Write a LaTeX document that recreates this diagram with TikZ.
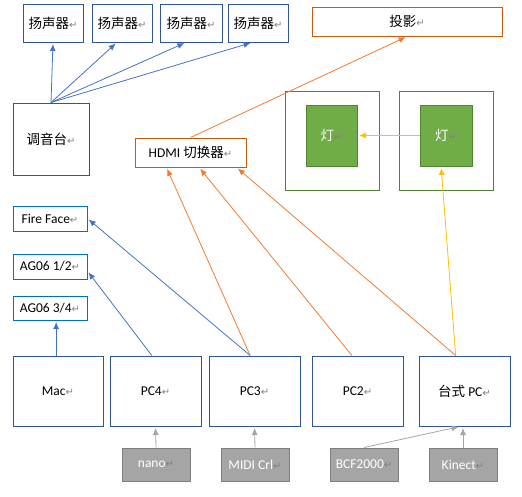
\documentclass[tikz,border=0pt]{standalone}
\usepackage{fontspec}
\setmainfont{Carlito}
\newfontfamily\cjk{Noto Sans CJK SC}
\newfontfamily\sym{DejaVu Sans}
\usetikzlibrary{arrows.meta}
\definecolor{dkblue}{HTML}{2F5597}
\definecolor{ltblue}{HTML}{0070C0}
\definecolor{arblue}{HTML}{4472C4}
\definecolor{dkorange}{HTML}{C55A11}
\definecolor{arorange}{HTML}{ED7D31}
\definecolor{dkgreen}{HTML}{548235}
\definecolor{ltgreen}{HTML}{70AD47}
\definecolor{aryellow}{HTML}{FFC000}
\definecolor{dkgray}{HTML}{7F7F7F}
\definecolor{ltgray}{HTML}{A5A5A5}
\newcommand{\retm}{{\sym\fontsize{10}{10}\selectfont\textcolor{gray}{↵}}}
\tikzset{bx/.style = {rectangle, draw=dkblue, line width=1pt, inner sep=0pt, text=black},
           spk/.style = {bx, minimum width=60, minimum height=38},
           pc/.style = {bx, minimum width=91, minimum height=70},
           sm/.style = {bx, draw=ltblue, minimum width=74, minimum height=25},
           ob/.style = {bx, draw=dkorange},
           frame/.style = {bx, draw=dkgreen, minimum width=94, minimum height=99},
           lamp/.style = {bx, draw=dkgreen, fill=ltgreen, text=white, minimum width=51, minimum height=61},
           gr/.style = {bx, draw=dkgray, fill=ltgray, text=white, minimum width=68, minimum height=33},
           ba/.style = {->, draw=arblue, line width=0.8pt, shorten >=1.5pt},
           oa/.style = {->, draw=arorange, line width=0.8pt, shorten >=1.5pt},
           ya/.style = {->, draw=aryellow, line width=0.8pt, shorten >=1.5pt},
           ga/.style = {->, draw=ltgray, line width=0.8pt, shorten >=1.5pt}}

\begin{document}
\begin{tikzpicture}[x=1pt, y=-1pt, >={Latex[length=7pt,width=6pt]},
    font=\fontsize{13.5}{15}\selectfont]
    \useasboundingbox (0,0) rectangle (522,496);
    \node[spk] (spk1) at (53,23) {\cjk 扬声器\retm};
    \node[spk] (spk2) at (122,23) {\cjk 扬声器\retm};
    \node[spk, minimum width=62] (spk3) at (191,23) {\cjk 扬声器\retm};
    \node[spk] (spk4) at (258,23) {\cjk 扬声器\retm};
    \node[bx, minimum width=76, minimum height=72] (mix) at (51,139) {\cjk 调音台\retm};
    \node[ob, minimum width=111, minimum height=29] (hdmi) at (190.5,152.5) {HDMI {\cjk 切换器}\retm};
    \node[ob, minimum width=190, minimum height=29] (proj) at (407,21.5) {\cjk 投影\retm};
    \node[frame] (frm1) at (332,140.5) {}; \node[frame] (frm2) at (446,140.5) {};
    \node[lamp] (lamp1) at (331.5,135.5) {\cjk 灯\retm};
    \node[lamp, minimum width=52] (lamp2) at (446,135.5) {\cjk 灯\retm};
    \node[sm] (ff) at (50,218.5) {Fire Face\retm};
    \node[sm] (ag12) at (50,266.5) {AG06 1/2\retm};
    \node[sm, minimum height=24] (ag34) at (50,308) {AG06 3/4\retm};
    \node[pc, minimum width=90] (mac) at (58,391) {Mac\retm};
    \node[pc] (pc4) at (155.5,391) {PC4\retm};
    \node[pc] (pc3) at (254.5,391) {PC3\retm};
    \node[pc] (pc2) at (357.5,391) {PC2\retm};
    \node[pc] (desk) at (464.5,391) {{\cjk 台式} PC\retm};
    \node[gr] (nano) at (156,464.5) {nano\retm};
    \node[gr] (midi) at (255,464.5) {MIDI Crl\retm};
    \node[gr] (bcf) at (364,464.5) {BCF2000\retm};
    \node[gr] (kin) at (463,464.5) {Kinect\retm};
    % mixer to speakers
    \draw[ba] (mix.north) -- (spk1.south);
    \draw[ba] (mix.north) -- (spk2.-105);
    \draw[ba] (mix.north) -- (spk3.-105);
    \draw[ba] (mix.north) -- (spk4.-107);
    % computers to sound cards
    \draw[ba] (mac.93) -- (mac.93 |- ag34.south);
    \draw[ba] (pc4.96) -- (ag12.-7);
    \draw[ba] (pc3.97) -- (ff.east);
    % video
    \draw[oa] (pc3.97) -- (hdmi.-148);
    \draw[oa] (pc2.99) -- (hdmi.-60);
    \draw[oa] (desk.104) -- (hdmi.-18);
    \draw[oa] (hdmi.north) -- (proj.south);
    % lights
    \draw[ya] (desk.104) -- (lamp2.-99);
    \draw[ya] (lamp2.west) -- (lamp1.east);
    % controllers
    \draw[ga] (nano.north) -- (pc4.south);
    \draw[ga] (midi.north) -- (pc3.south);
    \draw[ga] (bcf.north) -- (desk.-97);
    \draw[ga] (kin.north) -- (kin.north |- desk.south);
  \end{tikzpicture}
\end{document}
